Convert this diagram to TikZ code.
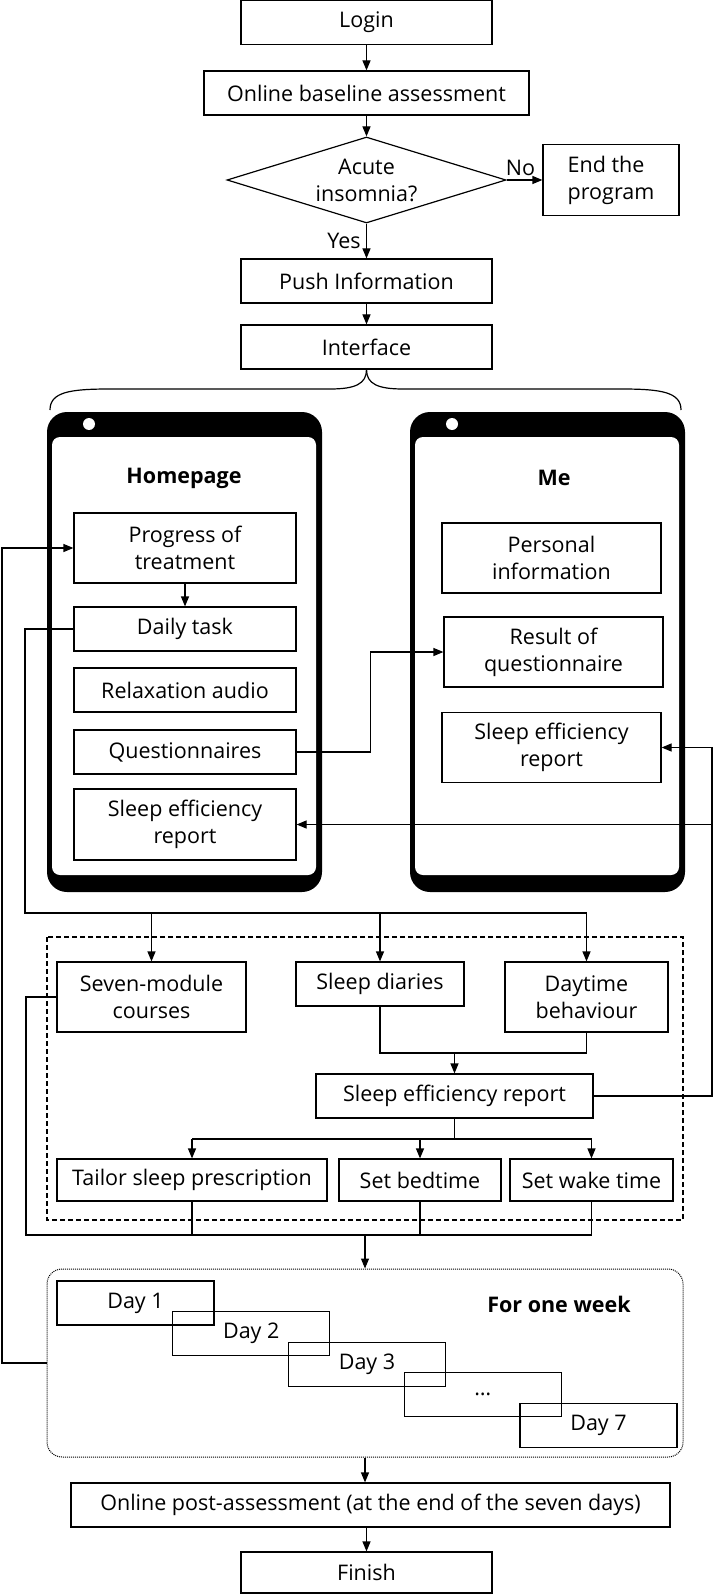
\documentclass[tikz,border=0pt]{standalone}
\usepackage{fontspec}
\setmainfont{Open Sans}
\usetikzlibrary{shapes.geometric,arrows.meta}

\begin{document}
\begin{tikzpicture}
	[
		x = 1pt, y = -1pt, line width = 1.2pt,
		font = \fontsize{21.5}{27}\selectfont,
		box/.style = {shape=rectangle, draw, align=center, inner sep=0pt, anchor=center},
		wbox/.style = {box, minimum width=251pt, minimum height=44pt},
		hbox/.style = {box, minimum width=222pt},
		mbox/.style = {box, minimum width=219pt, minimum height=70pt},
		daybox/.style = {box, minimum width=157pt, minimum height=44pt},
		arr/.style = {-{Triangle[length=10pt,width=8pt]}},
		heading/.style = {font=\fontsize{21.5}{27}\selectfont\bfseries}
	]
	
	\useasboundingbox (0, 0) rectangle (714, 1594);
	
	% top of the flow
	\node [wbox] (login) at (366.5, 22.5) {Login};
	\node [box, minimum width=325pt, minimum height=44pt] (online) at (366.5, 93) {Online baseline assessment};
	\node [shape=diamond, draw, aspect=3.5, inner sep=0pt, minimum width=279pt, minimum height=86pt, align=center] (acute) at (366.5, 180) {Acute\\insomnia?};
	\node [box, align=left, minimum width=136pt, minimum height=71pt] (end) at (611, 180) {End the\\program};
	\node [wbox] (push) at (366.5, 281) {Push Information};
	\node [wbox] (interface) at (366.5, 347) {Interface};
	
	\draw [arr] (login) -- (online);
	\draw [arr] (online) -- (acute);
	\draw [arr] (acute) -- node [left, xshift=-2pt] {Yes} (push);
	\draw [arr] (acute) -- node [above, xshift=-4pt] {No} (end);
	\draw [arr] (push) -- (interface);
	
	% brace
	\draw (50, 410) .. controls (50, 392) and (70, 389) .. (110, 389) -- (330, 389) .. controls (355, 389) and (366.5, 384) .. (interface.south);
	\draw (681, 410) .. controls (681, 392) and (661, 389) .. (621, 389) -- (403, 389) .. controls (378, 389) and (366.5, 384) .. (interface.south);
	
	% the two phones
	\newcommand{\phone}[1]{
		\fill [rounded corners=20pt] (#1, 412) rectangle ++(275, 480);
		\fill [white, rounded corners=8pt] ({#1 + 5}, 437) rectangle ({#1 + 269}, 875);
		\fill [white] ({#1 + 42}, 424) circle (6pt);
	}
	
	\phone{47}
	\phone{410}
	
	\node [heading] (home) at (184, 478) {Homepage};
	\node [heading] (me) at (554, 478) {Me};
	
	\node [hbox, minimum height=70pt] (progress) at (185, 548) {Progress of\\treatment};
	\node [hbox, minimum height=44pt] (daily) at (185, 629) {Daily task};
	\node [hbox, minimum height=44pt] (relax) at (185, 690) {Relaxation audio};
	\node [hbox, minimum height=44pt] (quest) at (185, 752) {Questionnaires};
	\node [hbox, minimum height=71pt] (sleepL) at (185, 824.5) {Sleep efficiency\\report};
	
	\node [mbox] (personal) at (551.5, 558) {Personal\\information};
	\node [mbox] (result) at (553.5, 652) {Result of\\questionnaire};
	\node [mbox] (sleepR) at (551.5, 747.5) {Sleep efficiency\\report};
	
	\draw [arr] (progress) -- (daily);
	\draw [arr] (quest.east) -- ++(74, 0) |- (result.west);
	
	% daily tasks
	\draw [dashed, dash pattern=on 5pt off 3pt] (47, 937) rectangle (683, 1220);
	
	\node [box, minimum width=189pt, minimum height=70pt] (seven) at (151.5, 997) {Seven-module\\courses};
	\node [box, minimum width=168pt, minimum height=44pt] (diaries) at (380, 984) {Sleep diaries};
	\node [box, minimum width=163pt, minimum height=70pt] (daytime) at (586.5, 997) {Daytime\\behaviour};
	\node [box, minimum width=277pt, minimum height=44pt] (sleepM) at (454.5, 1096) {Sleep efficiency report};
	\node [box, minimum width=270pt, minimum height=42pt] (tailor) at (192, 1180) {Tailor sleep prescription};
	\node [box, minimum width=162pt, minimum height=42pt] (bedtime) at (420, 1180) {Set bedtime};
	\node [box, minimum width=163pt, minimum height=42pt] (wake) at (591.5, 1180) {Set wake time};
	
	\coordinate (bus) at (25, 913);
	\coordinate (merge) at (0, 1053);
	\coordinate (split) at (0, 1139);
	\coordinate (coll) at (26, 1235);
	\coordinate (rt) at (712, 0);
	\coordinate (lft) at (2, 0);
	
	\draw (daily.west) -| (bus) -- (bus -| daytime.north);
	\foreach \n in {seven, diaries, daytime} { \draw [arr] (bus -| \n.north) -- (\n.north); }
	
	\draw (diaries.south) |- (merge -| daytime.south) -- (daytime.south);
	\draw [arr] (merge -| sleepM.north) -- (sleepM.north);
	
	\draw [arr] (sleepM.east) -| (rt |- sleepR.east) -- (sleepR.east);
	\draw [arr] (rt |- sleepL.east) -- (sleepL.east);
	
	\draw (sleepM.south) -- (sleepM.south |- split);
	\draw (split -| tailor.north) -- (split -| wake.north);
	\foreach \n in {tailor, bedtime, wake} { \draw [arr] (split -| \n.north) -- (\n.north); }
	
	% one week
	\node [draw, line width=1pt, dash pattern=on 1pt off 1pt, rounded corners=15pt, minimum width=636pt, minimum height=188pt] (week) at (365, 1363) {};
	
	\foreach \d/\t in {0/Day 1, 1/Day 2, 2/Day 3, 3/\ldots, 4/Day 7} {
		\node [daybox] (day\d) at ({135.5 + 115.75*\d}, {1303 + 30.6*\d}) {\t};
	}
	\node [heading] (oneweek) at (559, 1304) {For one week};
	
	\draw (seven.west) -| (coll) -- (coll -| wake.south);
	\foreach \n in {tailor, bedtime, wake} { \draw (\n.south) -- (coll -| \n.south); }
	\draw [arr] (coll -| week.north) -- (week.north);
	
	\draw [arr] (week.west) -| (lft |- progress.west) -- (progress.west);
	
	% end of the flow
	\node [box, minimum width=599pt, minimum height=44pt] (post) at (370.5, 1505) {Online post-assessment (at the end of the seven days)};
	\node [wbox, minimum height=41pt] (finish) at (366.5, 1572.5) {Finish};
	
	\draw [arr] (week.south) -- (week.south |- post.north);
	\draw [arr] (post.south -| finish.north) -- (finish.north);
\end{tikzpicture}
\end{document}
